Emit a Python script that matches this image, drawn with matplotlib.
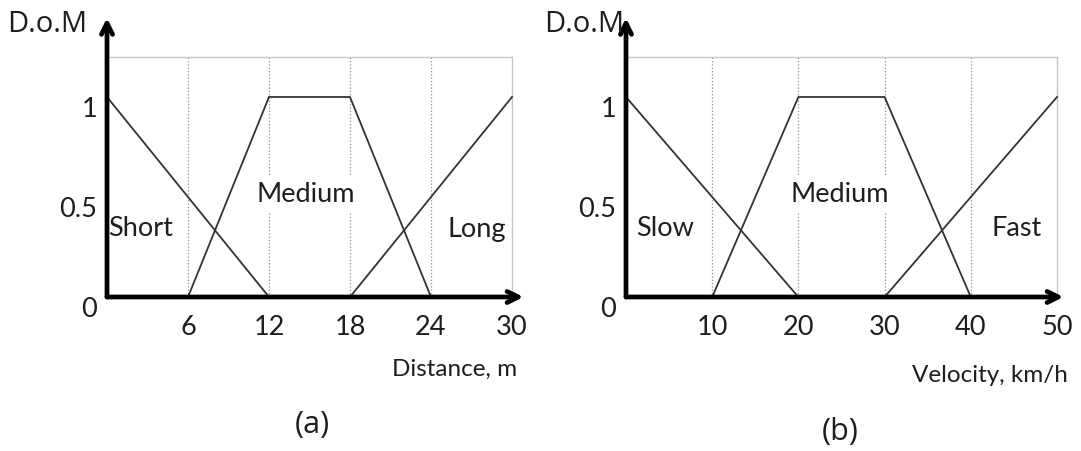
import matplotlib.pyplot as plt

# membership functions, distance (a)
dist_ticks = [6, 12, 18, 24, 30]
short_x = [0, 12]
short_y = [1, 0]
dmed_x = [6, 12, 18, 24]
dmed_y = [0, 1, 1, 0]
long_x = [18, 30]
long_y = [0, 1]

# membership functions, velocity (b)
vel_ticks = [10, 20, 30, 40, 50]
slow_x = [0, 20]
slow_y = [1, 0]
vmed_x = [10, 20, 30, 40]
vmed_y = [0, 1, 1, 0]
fast_x = [30, 50]
fast_y = [0, 1]

dom_ticks = [0, 0.5, 1]
dom_labels = ['0', '0.5', '1']

narrow = ['Lato', 'DejaVu Sans']
wide = ['Open Sans', 'DejaVu Sans']

W, H = 1081, 451
fig = plt.figure(figsize=(W / 100, H / 100), dpi=100)


def panel(left_px, right_px, xmax, xtip, ticks, lines, names, xlabel, xlabel_pos, tag, tag_pos, dom_pos):
    ax = fig.add_axes([left_px / W, (H - 297) / H, (right_px - left_px) / W, 240 / H])
    ax.set_xlim(0, xmax)
    ax.set_ylim(0, 1.2)
    for s in ax.spines.values():
        s.set_color('#c8c8c8')
        s.set_linewidth(1)
    # dotted guides
    for t in ticks[:-1]:
        ax.plot([t, t], [0, 1.2], ls=':', color='#909090', lw=0.9, zorder=1)
    for xs, ys in lines:
        ax.plot(xs, ys, color='#333333', lw=1.3, zorder=3, clip_on=False)
    for txt, x, y in names:
        bb = dict(facecolor='white', edgecolor='none', pad=4) if txt == 'Medium' else None
        ax.text(x, y, txt, ha='center', va='center', fontsize=19.5, family=narrow,
                color='#1e1e1e', bbox=bb, zorder=4)
    # thick arrow axes
    style = '->,head_length=0.8,head_width=0.4'
    ax.annotate('', xy=(xtip, 0), xytext=(0, 0), annotation_clip=False,
                arrowprops=dict(arrowstyle=style, lw=3.4, color='black',
                                shrinkA=0, shrinkB=0), zorder=5)
    ax.annotate('', xy=(0, 1.395), xytext=(0, 0), annotation_clip=False,
                arrowprops=dict(arrowstyle=style, lw=3.4, color='black',
                                shrinkA=0, shrinkB=0), zorder=5)
    ax.set_xticks(ticks)
    ax.set_xticklabels([str(t) for t in ticks], fontsize=19.5, family=narrow, color='#1e1e1e')
    ax.set_yticks(dom_ticks)
    ax.set_yticklabels(dom_labels, fontsize=19.5, family=narrow, color='#1e1e1e', va='top')
    ax.tick_params(axis='x', length=0, pad=13)
    ax.tick_params(axis='y', length=0, pad=7)
    fig.text(xlabel_pos[0] / W, 1 - xlabel_pos[1] / H, xlabel, ha='right', va='center',
             fontsize=17.5, family=narrow, color='#1e1e1e')
    fig.text(tag_pos[0] / W, 1 - tag_pos[1] / H, tag, ha='center', va='center',
             fontsize=22, family=wide, color='#1e1e1e')
    fig.text(dom_pos[0] / W, 1 - dom_pos[1] / H, 'D.o.M', ha='left', va='center',
             fontsize=21, family=wide, color='#1e1e1e')
    return ax


panel(107, 512, 30, 30.85, dist_ticks,
      [(short_x, short_y), (dmed_x, dmed_y), (long_x, long_y)],
      [('Short', 2.5, 0.34), ('Medium', 14.7, 0.51), ('Long', 27.4, 0.34)],
      'Distance, m', (517, 369), '(a)', (312, 425), (7, 24))

panel(626, 1057, 50, 50.75, vel_ticks,
      [(slow_x, slow_y), (vmed_x, vmed_y), (fast_x, fast_y)],
      [('Slow', 4.5, 0.34), ('Medium', 24.8, 0.51), ('Fast', 45.3, 0.34)],
      'Velocity, km/h', (1068, 376), '(b)', (840, 432), (544, 24))

fig.savefig('out.png', dpi=100, facecolor='white')
